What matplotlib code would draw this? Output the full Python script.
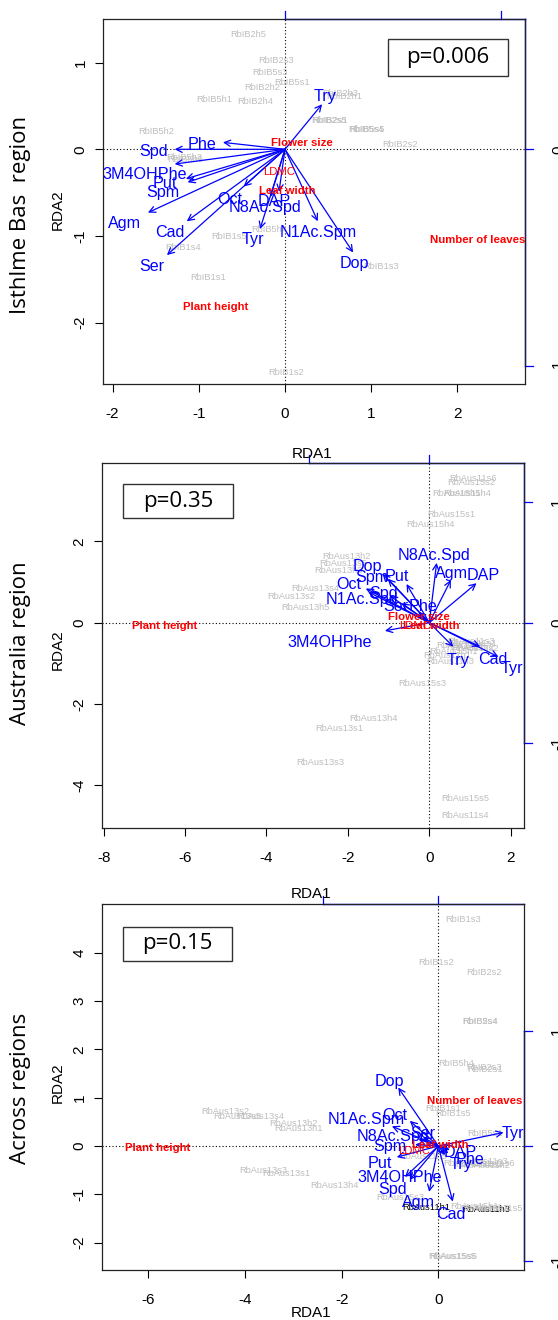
import matplotlib
matplotlib.use("Agg")
import matplotlib.pyplot as plt

W, H = 558, 1320
BLUE = "#0000FF"
RED = "#FF0000"
GREY = "#BEBEBE"
SANS = "Liberation Sans"

# ---------------- panel 1 : Isthlme Bas region ----------------
p1_species = ["Try", "Phe", "Spd", "3M4OHPhe", "Put", "Spm", "Agm", "Cad", "Ser",
              "Oct", "N8Ac.Spd", "DAP", "Tyr", "N1Ac.Spm", "Dop"]
p1_tip_x = [0.43, -0.72, -1.28, -1.28, -1.15, -1.13, -1.59, -1.14, -1.37,
            -0.48, -0.17, -0.07, -0.29, 0.38, 0.79]
p1_tip_y = [0.52, 0.08, 0.00, -0.17, -0.34, -0.38, -0.73, -0.83, -1.22,
            -0.43, -0.55, -0.49, -0.92, -0.83, -1.19]
p1_lab_x = [0.46, -0.96, -1.53, -1.63, -1.39, -1.42, -1.86, -1.34, -1.54,
            -0.64, -0.23, -0.12, -0.37, 0.38, 0.81]
p1_lab_y = [0.61, 0.06, -0.02, -0.29, -0.40, -0.50, -0.85, -0.96, -1.35,
            -0.58, -0.67, -0.60, -1.04, -0.96, -1.32]
p1_sites = ["RbIB2h5", "RbIB2s3", "RbIB5s3", "RbIB5s1", "RbIB2h2", "RbIB5h1", "RbIB2h4",
            "RbIB2h3", "RbIB2h1", "RbIB2s5", "RbIB2s1", "RbIB5s4", "RbIB5s5", "RbIB5h2",
            "RbIB2s2", "RbIB5h3", "RbIB5h5", "RbIB5h4", "RbIB1s5", "RbIB1s4", "RbIB1s3",
            "RbIB1s1", "RbIB1s2"]
p1_site_x = [-0.43, -0.11, -0.17, 0.08, -0.27, -0.82, -0.35,
             0.64, 0.69, 0.51, 0.52, 0.94, 0.95, -1.49,
             1.33, -1.17, -1.16, -0.18, -0.65, -1.18, 1.11,
             -0.89, 0.01]
p1_site_y = [1.32, 1.03, 0.89, 0.77, 0.71, 0.57, 0.55,
             0.64, 0.61, 0.33, 0.33, 0.23, 0.23, 0.21,
             0.06, -0.10, -0.12, -0.92, -1.00, -1.13, -1.35,
             -1.48, -2.57]
p1_traits = ["Flower size", "LDMC", "Leaf width", "Plant height", "Number of leaves"]
p1_trait_x = [0.20, -0.07, 0.03, -0.80, 2.24]
p1_trait_y = [0.07, -0.26, -0.48, -1.82, -1.05]
p1_trait_bold = [True, False, True, True, True]

# ---------------- panel 2 : Australia region ----------------
p2_species = ["N8Ac.Spd", "Agm", "DAP", "Dop", "Spm", "Put", "Oct", "N1Ac.Spd", "Spd",
              "Ser", "Phe", "3M4OHPhe", "Try", "Cad", "Tyr"]
p2_tip_x = [0.18, 0.53, 1.16, -1.15, -1.02, -0.56, -1.56, -1.49, -0.97,
            -0.68, -0.27, -1.09, 0.59, 1.25, 1.70]
p2_tip_y = [1.47, 1.05, 0.97, 1.20, 1.08, 0.95, 0.84, 0.75, 0.66,
            0.48, 0.27, -0.20, -0.59, -0.59, -0.84]
p2_lab_x = [0.12, 0.55, 1.33, -1.52, -1.42, -0.80, -1.97, -1.66, -1.13,
            -0.82, -0.15, -2.46, 0.71, 1.57, 2.03]
p2_lab_y = [1.64, 1.21, 1.15, 1.39, 1.12, 1.13, 0.95, 0.57, 0.72,
            0.39, 0.39, -0.48, -0.92, -0.90, -1.12]
p2_sites = ["RbAus11s6", "RbAus15s2", "RbAus15h5", "RbAus11h4", "RbAus15s1", "RbAus15h4",
            "RbAus13h2", "RbAus13s5", "RbAus13h3", "RbAus13s4", "RbAus13s2", "RbAus13h5",
            "RbAus11s3", "RbAus11s1", "RbAus11h2", "RbAus11s2", "RbAus11h5", "RbAus11h1",
            "RbAus15h1", "RbAus11h3", "RbAus15s3", "RbAus13h4", "RbAus13s1", "RbAus13s3",
            "RbAus15s5", "RbAus11s4"]
p2_site_x = [1.08, 1.02, 0.67, 0.92, 0.53, 0.02,
             -2.03, -2.11, -2.24, -2.81, -3.38, -3.04,
             1.02, 1.08, 1.00, 1.12, 0.75, 0.45,
             0.60, 0.51, -0.17, -1.38, -2.22, -2.67,
             0.88, 0.88]
p2_site_y = [3.55, 3.45, 3.18, 3.18, 2.66, 2.42,
             1.62, 1.46, 1.29, 0.85, 0.64, 0.37,
             -0.47, -0.52, -0.60, -0.64, -0.55, -0.80,
             -0.72, -0.96, -1.49, -2.35, -2.61, -3.44,
             -4.33, -4.74]
p2_traits = ["Plant height", "Flower size", "LDMC", "Leaf width"]
p2_trait_x = [-6.49, -0.25, -0.35, 0.05]
p2_trait_y = [-0.07, 0.15, -0.07, -0.07]
p2_trait_bold = [True, True, False, True]

# ---------------- panel 3 : Across regions ----------------
p3_species = ["Dop", "Oct", "N1Ac.Spm", "N8Ac.Spd", "Ser", "Spm", "Put", "3M4OHPhe",
              "Spd", "Agm", "Cad", "DAP", "Phe", "Try", "Tyr"]
p3_tip_x = [-0.83, -0.59, -0.96, -0.41, -0.31, -0.48, -0.86, -0.69,
            -0.59, -0.19, 0.30, 0.24, 0.21, 0.14, 1.35]
p3_tip_y = [1.21, 0.52, 0.41, 0.14, 0.18, 0.03, -0.23, -0.64,
            -0.70, -0.95, -1.15, -0.08, -0.15, -0.19, 0.28]
p3_lab_x = [-1.01, -0.90, -1.50, -0.94, -0.31, -1.00, -1.22, -0.81,
            -0.95, -0.41, 0.26, 0.45, 0.66, 0.48, 1.55]
p3_lab_y = [1.33, 0.64, 0.55, 0.19, 0.25, -0.01, -0.37, -0.65,
            -0.90, -1.17, -1.41, -0.14, -0.28, -0.39, 0.26]
p3_sites = ["RbIB1s3", "RbIB1s2", "RbIB2s2", "RbIB2s4", "RbIB5s4", "RbIB5h4", "RbIB2s3",
            "RbIB2s1", "RbIB1s1", "RbIB1s5", "RbIB5s1", "RbAus13s2", "RbAus13s5",
            "RbAus13s4", "RbAus13h2", "RbAus13h1", "RbAus13s3", "RbAus13s1", "RbAus13h4",
            "RbAus15s3", "RbAus11s3", "RbAus11s2", "RbAus11h2", "RbAus15s1", "RbAus11s6",
            "RbAus11h5", "RbAus15h3", "RbAus11s5", "RbAus15h1", "RbAus15s5", "RbAus15s6"]
p3_site_x = [0.52, -0.05, 0.95, 0.86, 0.87, 0.38, 0.95,
             0.97, 0.10, 0.31, 0.97, -4.42, -4.17,
             -3.69, -3.00, -2.90, -3.62, -3.14, -2.16,
             -0.79, 0.95, 0.85, 1.00, 0.60, 1.10,
             -0.31, 0.95, 1.25, 0.75, 0.28, 0.30]
p3_site_y = [4.68, 3.80, 3.59, 2.57, 2.57, 1.71, 1.63,
             1.59, 0.78, 0.68, 0.26, 0.72, 0.61,
             0.61, 0.47, 0.37, -0.50, -0.57, -0.81,
             -1.06, -0.33, -0.38, -0.40, -0.36, -0.36,
             -0.22, -1.30, -1.30, -1.25, -2.29, -2.29]
p3_black_sites = ["RbAus11h1", "RbAus11h3"]
p3_black_x = [-0.24, 1.00]
p3_black_y = [-1.28, -1.31]
p3_traits = ["Number of leaves", "Plant height", "LDMC", "Leaf width"]
p3_trait_x = [0.76, -5.81, -0.50, 0.05]
p3_trait_y = [0.93, -0.05, -0.10, 0.02]
p3_trait_bold = [True, True, False, True]


def px(x, y):
    return x / W, 1 - y / H


def make_axes(fig, left, top, right, bottom):
    return fig.add_axes([left / W, 1 - bottom / H, (right - left) / W, (bottom - top) / H])


def draw_panel(ax, xlim, ylim, xticks, yticks, species, tx, ty, lx, ly,
               sites, sx, sy, traits, trx, tr_y, trbold):
    ax.set_xlim(*xlim)
    ax.set_ylim(*ylim)
    ax.set_xticks(xticks)
    ax.set_yticks(yticks)
    ax.set_xticklabels([str(v) for v in xticks], family=SANS, fontsize=11)
    ax.set_yticklabels([str(v) for v in yticks], family=SANS, fontsize=11,
                       rotation=90, va="center")
    ax.tick_params(axis="x", direction="out", length=6, width=0.8, pad=10.5)
    ax.tick_params(axis="y", direction="out", length=6, width=0.8, pad=5)
    for s in ax.spines.values():
        s.set_linewidth(0.9)
        s.set_color("#222222")
    ax.axhline(0, color="black", lw=0.8, ls=(0, (1, 2)))
    ax.axvline(0, color="black", lw=0.8, ls=(0, (1, 2)))

    for name, x, y in zip(sites, sx, sy):
        ax.text(x, y, name, color=GREY, fontsize=6.7, family=SANS,
                ha="center", va="center", clip_on=True)
    for x, y in zip(tx, ty):
        ax.annotate("", xy=(x, y), xytext=(0, 0),
                    arrowprops=dict(arrowstyle="->,head_length=0.4,head_width=0.2",
                                    color=BLUE, lw=0.9, shrinkA=0, shrinkB=0,
                                    mutation_scale=11))
    for name, x, y in zip(species, lx, ly):
        ax.text(x, y, name, color=BLUE, fontsize=11.6, family=SANS,
                ha="center", va="center", clip_on=True)
    for name, x, y, b in zip(traits, trx, tr_y, trbold):
        ax.text(x, y, name, color=RED, fontsize=8.2, family=SANS,
                fontweight="bold" if b else "normal",
                ha="center", va="center", clip_on=True)


def blue_axes(ax, mul, top_ticks, top_from, right_ticks, right_from, right_to):
    bb = ax.get_position()
    aw = bb.width * W
    ah = bb.height * H
    tl = 8
    xt = ax.get_xaxis_transform()
    yt = ax.get_yaxis_transform()
    for t in top_ticks:
        ax.plot([t * mul, t * mul], [1, 1 + tl / ah], transform=xt,
                color=BLUE, lw=0.9, clip_on=False)
    ax.plot([top_from * mul, ax.get_xlim()[1]], [1, 1], transform=xt,
            color=BLUE, lw=1.0, clip_on=False)
    for t in right_ticks:
        ax.plot([1, 1 + tl / aw], [t * mul, t * mul], transform=yt,
                color=BLUE, lw=0.9, clip_on=False)
        ax.text(1 + 33 / aw, t * mul, str(t), transform=yt, rotation=90,
                ha="center", va="center", fontsize=11, family=SANS, clip_on=False)
    y_hi = ax.get_ylim()[1] if right_to is None else right_to * mul
    ax.plot([1, 1], [right_from * mul, y_hi], transform=yt,
            color=BLUE, lw=1.0, clip_on=False)


def p_box(fig, left, top, right, bottom, text):
    l, b = px(left, bottom)
    r, t = px(right, top)
    fig.patches.append(plt.Rectangle((l, b), r - l, t - b, transform=fig.transFigure,
                                     fill=False, edgecolor="#333333", lw=1.0))
    fig.text((l + r) / 2, (b + t) / 2, text, ha="center", va="center",
             fontsize=16, family="Open Sans")


fig = plt.figure(figsize=(W / 100, H / 100), dpi=100)

ax1 = make_axes(fig, 102.7, 19, 525, 384)
draw_panel(ax1, (-2.115, 2.784), (-2.707, 1.503), [-2, -1, 0, 1, 2], [-2, -1, 0, 1],
           p1_species, p1_tip_x, p1_tip_y, p1_lab_x, p1_lab_y,
           p1_sites, p1_site_x, p1_site_y,
           p1_traits, p1_trait_x, p1_trait_y, p1_trait_bold)
blue_axes(ax1, 2.50, [0, 1], 0, [0, -1], -1, None)

ax2 = make_axes(fig, 101.7, 463.3, 524.3, 828.3)
draw_panel(ax2, (-8.049, 2.334), (-5.052, 3.916), [-8, -6, -4, -2, 0, 2], [-4, -2, 0, 2],
           p2_species, p2_tip_x, p2_tip_y, p2_lab_x, p2_lab_y,
           p2_sites, p2_site_x, p2_site_y,
           p2_traits, p2_trait_x, p2_trait_y, p2_trait_bold)
blue_axes(ax2, 2.96, [-1, 0], -1, [1, 0, -1], -1, None)

ax3 = make_axes(fig, 101.7, 904.3, 524.3, 1270)
draw_panel(ax3, (-6.969, 1.781), (-2.567, 5.004), [-6, -4, -2, 0], [-2, -1, 0, 1, 2, 3, 4],
           p3_species, p3_tip_x, p3_tip_y, p3_lab_x, p3_lab_y,
           p3_sites, p3_site_x, p3_site_y,
           p3_traits, p3_trait_x, p3_trait_y, p3_trait_bold)
for name, x, y in zip(p3_black_sites, p3_black_x, p3_black_y):
    ax3.text(x, y, name, color="black", fontsize=6.7, family=SANS,
             ha="center", va="center", clip_on=True, zorder=2.5)
blue_axes(ax3, 2.39, [-1, 0], -1, [1, 0, -1], -1, 1)

# axis titles
for (x, y) in [(312, 454), (311, 894), (311, 1313)]:
    fig.text(*px(x, y), "RDA1", ha="center", va="center", fontsize=11, family=SANS)
for y in [210, 650, 1083]:
    fig.text(*px(58, y), "RDA2", ha="center", va="center", rotation=90,
             fontsize=11, family=SANS)

# row titles
row_titles = ["Isthlme Bas  region", "Australia region", "Across regions"]
for t, y in zip(row_titles, [215, 643, 1088]):
    fig.text(*px(21, y), t, ha="center", va="center", rotation=90,
             fontsize=16, family="Open Sans")

p_box(fig, 388, 39, 508, 76, "p=0.006")
p_box(fig, 123, 484, 233, 518, "p=0.35")
p_box(fig, 123, 927, 232, 961, "p=0.15")

fig.savefig("out.png", dpi=100)
